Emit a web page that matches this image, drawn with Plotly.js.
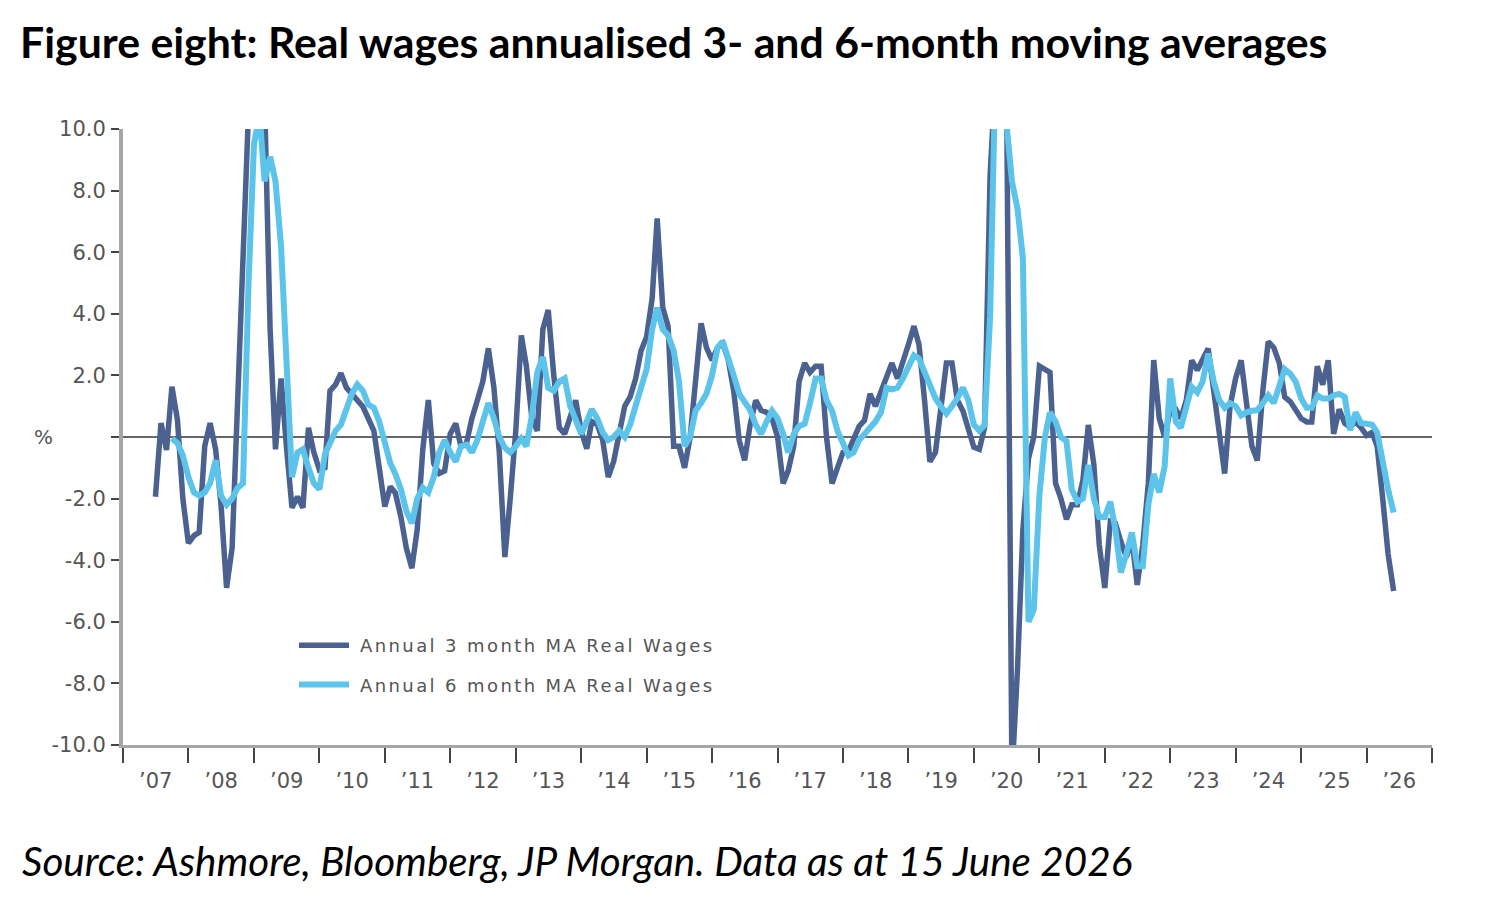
<!DOCTYPE html>
<html>
<head>
<meta charset="utf-8">
<script src="https://cdn.plot.ly/plotly-3.0.1.min.js"></script>
<style>
  html, body { margin: 0; padding: 0; background: #fff; }
  #chart { width: 1493px; height: 913px; }
  .legendtext { letter-spacing: 2.4px; transform: translateX(6px); }
</style>
</head>
<body>
<div id="chart"></div>
<script>
// ---- Data (monthly) ----
const threeMonthStart = [2007, 7];   // first month of the 3-month series (year, month)
const sixMonthStart = [2007, 10];    // first month of the 6-month series

const threeMonthMA = [
  -1.94, 0.45, -0.42, 1.63, 0.55, -2.0, -3.45, -3.2, -3.1, -0.3, 0.45, -0.4,
  -2.2, -4.9, -3.6, 1.0, 5.8, 10.5, 13, 13, 11, 3.5, -0.4, 1.9,
  -0.3, -2.3, -1.94, -2.3, 0.3, -0.5, -1.07, -1.0, 1.5, 1.7, 2.07, 1.6,
  1.4, 1.2, 0.98, 0.6, 0.2, -1.0, -2.26, -1.61, -1.82, -2.6, -3.6, -4.26,
  -3.0, -0.4, 1.2, -0.86, -1.18, -1.1, 0.1, 0.44, -0.32, -0.2, 0.6, 1.2,
  1.8, 2.88, 1.6, -0.5, -3.9, -2.0, 0.2, 3.3, 2.3, 0.6, 0.2, 3.5,
  4.12, 2.0, 0.3, 0.1, 0.6, 1.19, 0.2, -0.38, 0.5, 0.4, -0.1, -1.3,
  -0.8, 0.2, 1.0, 1.3, 1.9, 2.8, 3.25, 4.5, 7.1, 4.2, 3.6, -0.3,
  -0.3, -1.0, 0.0, 1.8, 3.69, 2.9, 2.5, 2.9, 3.04, 2.5, 1.5, -0.11,
  -0.76, 0.4, 1.19, 0.87, 0.8, 0.6, 0.0, -1.51, -1.1, -0.3, 1.8, 2.4,
  2.1, 2.3, 2.3, 0.0, -1.51, -1.0, -0.5, -0.45, -0.1, 0.35, 0.54, 1.4,
  1.0, 1.5, 2.0, 2.4, 1.9, 2.4, 3.0, 3.6, 3.0, 1.2, -0.8, -0.5,
  1.0, 2.4, 2.4, 1.2, 0.85, 0.3, -0.33, -0.4, 0.3, 8.5, 14, 15,
  12, -11, -7.5, -3.0, -0.7, 0.0, 2.3, 2.2, 2.1, -1.5, -2.0, -2.67,
  -2.2, -2.2, -1.4, 0.39, -0.9, -3.5, -4.9, -2.74, -2.8, -3.4, -3.9, -3.3,
  -4.8, -3.5, -1.5, 2.5, 0.6, 0.0, 0.87, 0.9, 0.6, 1.2, 2.49, 2.17,
  2.5, 2.87, 1.5, 0.3, -1.19, 1.0, 1.9, 2.49, 1.0, -0.3, -0.76, 1.5,
  3.1, 2.9, 2.4, 1.3, 1.15, 0.9, 0.6, 0.49, 0.49, 2.3, 1.7, 2.49,
  0.1, 0.9, 0.45, 0.32, 0.5, 0.3, 0.05, 0.15, -0.3, -2.0, -3.8, -5.0
];

const sixMonthMA = [
  -0.05, -0.2, -0.6, -1.3, -1.8, -1.9, -1.8, -1.5, -0.75,
  -1.9, -2.2, -2.0, -1.65, -1.5, 4.9, 9.5, 10.5, 8.3, 9.1, 8.3, 6.2,
  2.7, -1.3, -0.5, -0.4, -1.0, -1.5, -1.7, -0.55, -0.2, 0.2, 0.4, 0.9,
  1.4, 1.7, 1.5, 1.05, 0.95, 0.5, -0.2, -0.86, -1.2, -1.7, -2.4, -2.8,
  -2.0, -1.65, -1.8, -1.3, -0.5, -0.1, -0.5, -0.8, -0.3, -0.25, -0.5, -0.1,
  0.5, 1.1, 0.6, 0.0, -0.35, -0.5, -0.3, -0.05, -0.3, 0.7, 2.1, 2.6,
  1.6, 1.5, 1.8, 1.9, 1.0, 0.5, 0.1, 0.5, 0.9, 0.6, 0.15, -0.1,
  0.0, 0.2, 0.0, 0.4, 1.1, 1.6, 2.2, 3.5, 4.2, 3.5, 3.3, 2.8,
  1.8, -0.3, 0.0, 0.85, 1.1, 1.4, 2.0, 2.9, 3.1, 2.6, 2.0, 1.4,
  1.1, 0.87, 0.4, 0.1, 0.5, 0.85, 0.6, 0.1, -0.5, 0.1, 0.35, 0.43,
  1.1, 1.9, 1.9, 1.2, 0.85, 0.2, -0.2, -0.6, -0.5, -0.1, 0.1, 0.3,
  0.5, 0.8, 1.6, 1.55, 1.6, 1.9, 2.3, 2.65, 2.55, 2.1, 1.6, 1.25,
  1.0, 0.76, 1.0, 1.25, 1.6, 1.2, 0.4, 0.2, 0.39, 3.9, 12, 14,
  10.2, 8.3, 7.4, 5.8, -6.0, -5.6, -1.9, 0.0, 0.8, 0.5, 0.0, -0.13,
  -1.7, -2.1, -2.0, -0.91, -2.0, -2.6, -2.6, -2.1, -3.0, -4.4, -3.8, -3.1,
  -4.2, -4.2, -2.2, -1.2, -1.8, -0.95, 1.9, 0.5, 0.3, 0.9, 1.63, 1.45,
  1.8, 2.71, 1.8, 1.2, 0.95, 1.1, 1.0, 0.7, 0.8, 0.85, 0.87, 1.1,
  1.35, 1.1, 1.6, 2.2, 2.05, 1.8, 1.25, 0.95, 0.95, 1.35, 1.25, 1.25,
  1.35, 1.4, 1.3, 0.22, 0.8, 0.45, 0.43, 0.4, 0.15, -0.9, -1.7, -2.45
];

const seriesNames = ["Annual 3 month MA Real Wages", "Annual 6 month MA Real Wages"];
const yTickValues = [10, 8, 6, 4, 2, 0, -2, -4, -6, -8, -10];
const yTickLabels = ["10.0", "8.0", "6.0", "4.0", "2.0", "", "-2.0", "-4.0", "-6.0", "-8.0", "-10.0"];
const xRange = ["2007-01-01", "2027-01-01"];

// ---- helpers ----
function monthDates(start, n) {
  const out = [];
  for (let i = 0; i < n; i++) {
    const idx = (start[0] * 12 + (start[1] - 1)) + i;
    const y = Math.floor(idx / 12);
    const m = idx % 12 + 1;
    out.push(y + "-" + String(m).padStart(2, "0") + "-01");
  }
  return out;
}

const W = 1493, H = 913;
const L = 123, R = 61, T = 129, B = 168;
const pw = W - L - R, ph = H - T - B;
const px = x => (x - L) / pw;          // page pixel -> paper x
const py = y => (H - B - y) / ph;      // page pixel -> paper y

const axisFont = "DejaVu Sans, Verdana, sans-serif";

const traces = [
  {
    x: monthDates(threeMonthStart, threeMonthMA.length),
    y: threeMonthMA,
    name: seriesNames[0],
    type: "scatter", mode: "lines",
    legendgroup: "a",
    line: { color: "#4b6190", width: 5.5 }
  },
  {
    x: monthDates(sixMonthStart, sixMonthMA.length),
    y: sixMonthMA,
    name: seriesNames[1],
    type: "scatter", mode: "lines",
    legendgroup: "b",
    line: { color: "#5cc4ea", width: 6 }
  }
];

const layout = {
  width: W, height: H,
  margin: { l: L, r: R, t: T, b: B },
  paper_bgcolor: "#ffffff",
  plot_bgcolor: "#ffffff",
  font: { family: axisFont, color: "#555555", size: 20 },
  title: {
    text: "<b>Figure eight: Real wages annualised 3- and 6-month moving averages</b>",
    font: { family: "Lato, 'Open Sans', sans-serif", size: 42.8, color: "#000000" },
    xref: "container", yref: "container",
    x: 20 / W, xanchor: "left",
    y: 1 - 43 / H, yanchor: "middle"
  },
  xaxis: {
    type: "date",
    range: xRange,
    tick0: "2007-01-01",
    dtick: "M12",
    tickformat: "’%y",
    ticklabelmode: "period",
    ticks: "outside", ticklen: 15, tickwidth: 2, tickcolor: "#444444",
    showline: true, linecolor: "#a6a6a6", linewidth: 3,
    showgrid: false, zeroline: false,
    tickfont: { family: axisFont, size: 21, color: "#555555" },
    fixedrange: true
  },
  yaxis: {
    range: [-10, 10],
    tickmode: "array",
    tickvals: yTickValues,
    ticktext: yTickLabels,
    ticks: "outside", ticklen: 8, tickwidth: 2, tickcolor: "#444444",
    ticklabelstandoff: 1,
    showline: true, linecolor: "#a6a6a6", linewidth: 4,
    showgrid: false,
    zeroline: true, zerolinecolor: "#666666", zerolinewidth: 1.5,
    tickfont: { family: axisFont, size: 21, color: "#555555" },
    fixedrange: true
  },
  showlegend: true,
  legend: {
    x: px(294), xanchor: "left",
    y: py(627), yanchor: "top",
    bgcolor: "rgba(0,0,0,0)",
    traceorder: "grouped",
    tracegroupgap: 13,
    itemwidth: 50,
    font: { size: 18, color: "#555555", family: axisFont }
  },
  annotations: [
    {
      text: "%", xref: "paper", yref: "paper",
      x: px(43), y: 0.5, xanchor: "center", yanchor: "middle",
      showarrow: false, font: { family: axisFont, size: 20, color: "#555555" }
    },
    {
      text: "<i>Source: Ashmore, Bloomberg, JP Morgan. Data as at 15 June 2026</i>",
      xref: "paper", yref: "paper",
      x: px(20), y: py(860), xanchor: "left", yanchor: "middle",
      showarrow: false,
      font: { family: "Lato, 'Open Sans', sans-serif", size: 40.4, color: "#000000" }
    }
  ]
};

Plotly.newPlot("chart", traces, layout, { displayModeBar: false, staticPlot: true });
</script>
</body>
</html>
